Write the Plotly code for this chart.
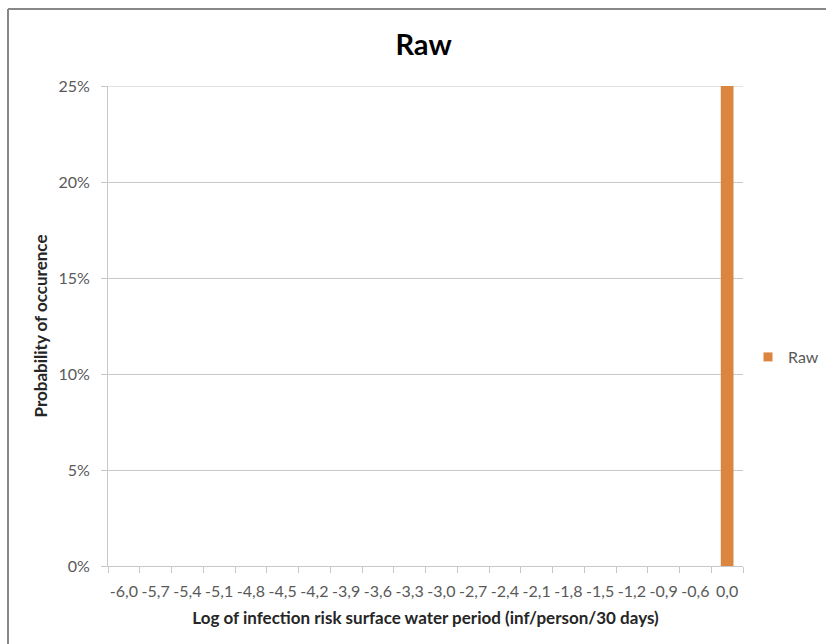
import plotly.graph_objects as go

# Histogram bins (log10 of infection risk) and their probabilities
bin_labels = ["-6,0", "-5,7", "-5,4", "-5,1", "-4,8", "-4,5", "-4,2", "-3,9", "-3,6", "-3,3",
              "-3,0", "-2,7", "-2,4", "-2,1", "-1,8", "-1,5", "-1,2", "-0,9", "-0,6", "0,0"]
raw_probability = [0, 0, 0, 0, 0, 0, 0, 0, 0, 0,
                   0, 0, 0, 0, 0, 0, 0, 0, 0, 0.25]
y_ticks = [0, 0.05, 0.10, 0.15, 0.20, 0.25]

BAR_COLOR = "#DC853F"
GRID = "#C8C8C8"
FONT = "Lato"

W, H = 826, 644
L, R, T, B = 108, 83, 86, 78
plot_w, plot_h = W - L - R, H - T - B


def px_x(px):
    return (px - L) / plot_w


def px_y(py):
    return (H - B - py) / plot_h


fig = go.Figure()
fig.add_trace(go.Bar(
    x=bin_labels, y=raw_probability, name="Raw",
    marker=dict(color=BAR_COLOR, line=dict(width=0)),
    showlegend=False,
))
# legend entry with a small square swatch
fig.add_trace(go.Scatter(
    x=[None], y=[None], mode="markers", name="Raw",
    marker=dict(symbol="square", size=9, color=BAR_COLOR),
))

fig.update_layout(
    width=W, height=H,
    margin=dict(l=L, r=R, t=T, b=B, autoexpand=False),
    paper_bgcolor="white", plot_bgcolor="white",
    bargap=0.6,
    font=dict(family=FONT, color="#595959", size=16),
    title=dict(text="<b>Raw</b>", x=0.497, xref="paper", y=1 - 45 / H, yref="container",
               xanchor="center", yanchor="middle",
               font=dict(family=FONT, size=29, color="#000000")),
    legend=dict(x=px_x(748), xanchor="left", y=px_y(357), yanchor="middle",
                font=dict(family=FONT, size=16, color="#595959"),
                bgcolor="rgba(0,0,0,0)", itemwidth=30),
    xaxis=dict(
        type="category", tickson="boundaries", ticks="outside", ticklen=6, tickcolor=GRID,
        showline=True, linecolor=GRID, linewidth=1, showgrid=False,
        tickfont=dict(family=FONT, size=16, color="#595959"), tickangle=0,
        ticklabelstandoff=11,
        title=dict(text="<b>Log of infection risk surface water period (inf/person/30 days)</b>",
                   font=dict(family=FONT, size=17, color="#262626"), standoff=12),
    ),
    yaxis=dict(
        range=[0, 0.25], tickvals=y_ticks, tickformat=".0%",
        ticks="outside", ticklen=6, tickcolor=GRID,
        showline=True, linecolor=GRID, linewidth=1,
        showgrid=True, gridcolor=GRID, gridwidth=1, zeroline=False,
        tickfont=dict(family=FONT, size=16, color="#595959"),
        ticklabelstandoff=8,
        title=dict(text="<b>Probability of occurence</b>",
                   font=dict(family=FONT, size=17, color="#262626"), standoff=6),
    ),
    shapes=[
        # gridline at the top of the value range
        dict(type="line", xref="paper", yref="y", x0=px_x(102), x1=1, y0=0.25, y1=0.25,
             line=dict(color=GRID, width=1), layer="below"),
        # outer chart frame
        dict(type="line", xref="paper", yref="paper", x0=px_x(8), x1=1.3, y0=px_y(9), y1=px_y(9),
             line=dict(color="#888888", width=2)),
        dict(type="line", xref="paper", yref="paper", x0=px_x(8), x1=px_x(8), y0=px_y(9), y1=-0.3,
             line=dict(color="#888888", width=2)),
    ],
)

fig.write_html("out.html")
